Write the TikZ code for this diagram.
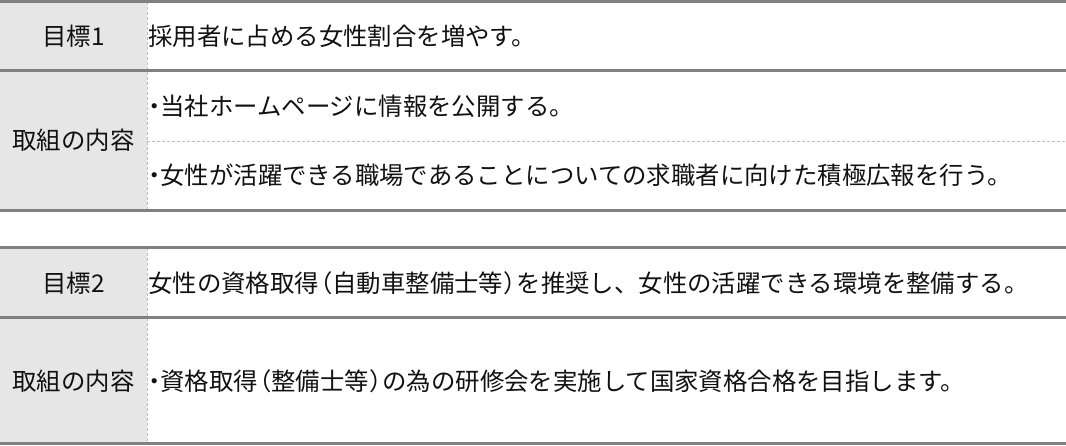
\documentclass[tikz,border=0pt]{standalone}
\usepackage{fontspec}
\newfontfamily\jpfont{Noto Sans CJK JP}
\definecolor{rulegray}{HTML}{808080}
\definecolor{cellgray}{HTML}{E6E6E6}
\definecolor{dashgray}{HTML}{BDBDBD}
\definecolor{txt}{HTML}{111111}
\newcommand\hdot{\makebox[0.5em][c]{・}}
\newcommand\lpar{\makebox[0.55em][r]{（}}
\newcommand\rpar{\makebox[0.55em][l]{）}}
\tikzset{
  rulel/.style={draw=rulegray,line width=3pt},
  dashl/.style={draw=dashgray,line width=0.9pt,dash pattern=on 3pt off 2pt},
  headcell/.style={fill=cellgray,draw=none},
  headtxt/.style={anchor=center,inner sep=0pt,text=txt,font=\jpfont\fontsize{24.4}{28}\selectfont},
  bodytxt/.style={anchor=west,inner sep=0pt,text=txt,font=\jpfont\fontsize{24.4}{28}\selectfont},
}
\begin{document}
\begin{tikzpicture}[x=1pt,y=-1pt]
\useasboundingbox (0,0) rectangle (1066,445);
% table 1
\fill[headcell] (0,1.5) rectangle (147,210.5);
\fill[headcell] (0,247.5) rectangle (147,443.5);
\draw[dashl] (147,1.5) -- (147,210.5);
\draw[dashl] (147,247.5) -- (147,443.5);
\draw[dashl] (147,141) -- (1066,141);
\draw[rulel] (0,1.5) -- (1066,1.5);
\draw[rulel] (0,70.5) -- (1066,70.5);
\draw[rulel] (0,210.5) -- (1066,210.5);
\draw[rulel] (0,247.5) -- (1066,247.5);
\draw[rulel] (0,317.5) -- (1066,317.5);
\draw[rulel] (0,443.5) -- (1066,443.5);
% texts
\node[headtxt] (h1) at (73.5,36) {目標1};
\node[bodytxt] (g1) at (148,36) {採用者に占める女性割合を増やす。};
\node[headtxt] (h2) at (73.5,140.5) {取組の内容};
\node[bodytxt] (c1) at (148,106) {\hdot 当社ホームページに情報を公開する。};
\node[bodytxt] (c2) at (148,175.5) {\hdot 女性が活躍できる職場であることについての求職者に向けた積極広報を行う。};
\node[headtxt] (h3) at (73.5,283) {目標2};
\node[bodytxt] (g2) at (148,283) {女性の資格取得\lpar 自動車整備士等\rpar を推奨し、女性の活躍できる環境を整備する。};
\node[headtxt] (h4) at (73.5,381) {取組の内容};
\node[bodytxt] (c3) at (148,381) {\hdot 資格取得\lpar 整備士等\rpar の為の研修会を実施して国家資格合格を目指します。};
\end{tikzpicture}
\end{document}
